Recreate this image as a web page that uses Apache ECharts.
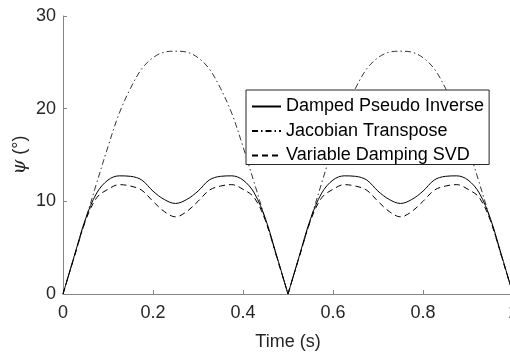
<!DOCTYPE html>
<html>
<head>
<meta charset="utf-8">
<script src="https://cdn.jsdelivr.net/npm/echarts@6/dist/echarts.min.js"></script>
<style>
  html, body { margin: 0; padding: 0; background: #fff; }
  #chart { width: 510px; height: 354px; }
</style>
</head>
<body>
<div id="chart"></div>
<script>
// 时间轴 (s)
const time = [0, 0.025, 0.05, 0.075, 0.1, 0.125, 0.15, 0.175, 0.2, 0.225, 0.25,
  0.275, 0.3, 0.325, 0.35, 0.375, 0.4, 0.425, 0.45, 0.475, 0.5,
  0.525, 0.55, 0.575, 0.6, 0.625, 0.65, 0.675, 0.7, 0.725, 0.75,
  0.775, 0.8, 0.825, 0.85, 0.875, 0.9, 0.925, 0.95, 0.975, 1];

const dampedPseudoInverse = [0, 4.1, 8.1, 10.9, 12.3, 12.75, 12.7, 12.3, 11.1, 10.2, 9.77,
  10.2, 11.1, 12.3, 12.7, 12.75, 12.3, 10.9, 8.1, 4.1, 0,
  4.1, 8.1, 10.9, 12.3, 12.75, 12.7, 12.3, 11.1, 10.2, 9.77,
  10.2, 11.1, 12.3, 12.7, 12.75, 12.3, 10.9, 8.1, 4.1, 0];

const jacobianTranspose = [0, 4.0, 8.0, 12.0, 15.9, 19.5, 22.2, 24.3, 25.5, 26.1, 26.2,
  26.1, 25.5, 24.3, 22.2, 19.5, 15.9, 12.0, 8.0, 4.0, 0,
  4.0, 8.0, 12.0, 15.9, 19.5, 22.2, 24.3, 25.5, 26.1, 26.2,
  26.1, 25.5, 24.3, 22.2, 19.5, 15.9, 12.0, 8.0, 4.0, 0];

const variableDampingSVD = [0, 4.0, 7.9, 10.4, 11.3, 11.8, 11.65, 11.2, 10.0, 8.9, 8.33,
  8.9, 10.0, 11.2, 11.65, 11.8, 11.3, 10.4, 7.9, 4.0, 0,
  4.0, 7.9, 10.4, 11.3, 11.8, 11.65, 11.2, 10.0, 8.9, 8.33,
  8.9, 10.0, 11.2, 11.65, 11.8, 11.3, 10.4, 7.9, 4.0, 0];

const seriesNames = ['Damped Pseudo Inverse', 'Jacobian Transpose', 'Variable Damping SVD'];

const font = 'Liberation Sans, Arial, sans-serif';
const axisGrey = '#858585';
const textColor = '#262626';

// 在中间的零点处断开，让平滑曲线保持尖角
const pairs = (ys) => {
  const out = [];
  time.forEach((t, i) => {
    out.push([t, ys[i]]);
    if (ys[i] === 0 && i > 0 && i < time.length - 1) {
      out.push('-');
      out.push([t, ys[i]]);
    }
  });
  return out;
};

const chart = echarts.init(document.getElementById('chart'), null, { renderer: 'canvas' });

chart.setOption({
  animation: false,
  grid: { left: 63, right: -3, top: 16, bottom: 60, outerBoundsMode: 'none' },
  xAxis: {
    type: 'value',
    min: 0,
    max: 1,
    interval: 0.2,
    name: 'Time (s)',
    nameLocation: 'middle',
    nameGap: 39,
    nameMoveOverlap: false,
    nameTextStyle: { fontFamily: font, fontSize: 18, color: textColor },
    axisLine: { show: true, lineStyle: { color: axisGrey, width: 1 } },
    axisTick: { show: true, inside: true, length: 4, lineStyle: { color: axisGrey } },
    axisLabel: { fontFamily: font, fontSize: 18, color: textColor, margin: 10 },
    splitLine: { show: false }
  },
  yAxis: {
    type: 'value',
    min: 0,
    max: 30,
    interval: 10,
    name: '{psi|ψ} (°)',
    nameLocation: 'middle',
    nameGap: 33,
    nameRotate: 90,
    nameMoveOverlap: false,
    nameTextStyle: {
      fontFamily: font, fontSize: 18, color: textColor,
      rich: { psi: { fontFamily: 'DejaVu Serif', fontStyle: 'italic', fontSize: 19, color: textColor } }
    },
    axisLine: { show: true, lineStyle: { color: axisGrey, width: 1 } },
    axisTick: { show: true, inside: true, length: 4, lineStyle: { color: axisGrey } },
    axisLabel: { fontFamily: font, fontSize: 18, color: textColor, margin: 7 },
    splitLine: { show: false }
  },
  legend: {
    left: 246,
    top: 90,
    orient: 'vertical',
    data: seriesNames,
    itemWidth: 29,
    itemHeight: 17,
    itemGap: 6.5,
    padding: [7.5, 5, 0, 5],
    backgroundColor: '#fff',
    borderColor: '#262626',
    borderWidth: 1,
    borderRadius: 0,
    selectedMode: false,
    itemStyle: { opacity: 0 },
    textStyle: { fontFamily: font, fontSize: 18, color: '#000', lineHeight: 17 }
  },
  series: [
    {
      name: seriesNames[0],
      type: 'line',
      data: pairs(dampedPseudoInverse),
      smooth: 0.35,
      symbol: 'none',
      lineStyle: { color: '#000', width: 1, type: 'solid' },
      itemStyle: { color: '#000' }
    },
    {
      name: seriesNames[1],
      type: 'line',
      data: pairs(jacobianTranspose),
      smooth: 0.35,
      symbol: 'none',
      lineStyle: { color: '#000', width: 0.8, type: [6, 3, 1.5, 3] },
      itemStyle: { color: '#000' }
    },
    {
      name: seriesNames[2],
      type: 'line',
      data: pairs(variableDampingSVD),
      smooth: 0.35,
      symbol: 'none',
      lineStyle: { color: '#000', width: 1, type: [6, 4] },
      itemStyle: { color: '#000' }
    }
  ]
});
</script>
</body>
</html>
